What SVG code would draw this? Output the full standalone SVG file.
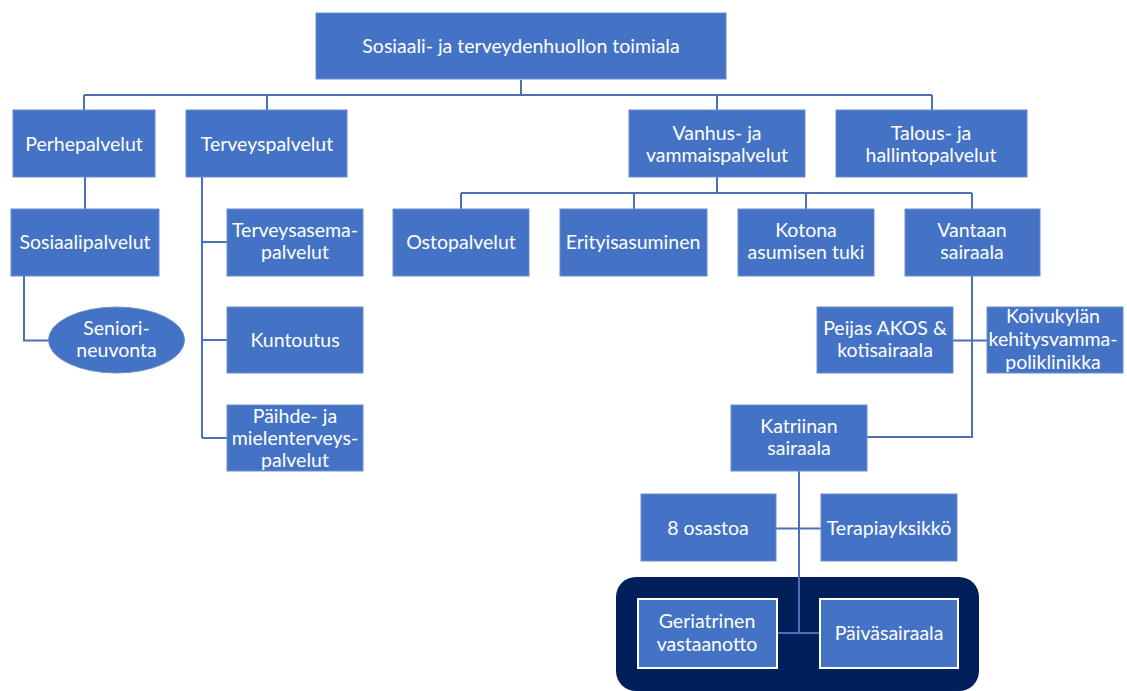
<svg xmlns="http://www.w3.org/2000/svg" width="1127" height="691" viewBox="0 0 1127 691">
<style>
.b{fill:#4472C4;stroke:#6d8fd0;stroke-width:1}
.w{fill:#4472C4;stroke:#ffffff;stroke-width:2}
.t{font-family:Lato,"Liberation Sans",sans-serif;font-size:19.5px;fill:#ffffff;text-anchor:middle}
.c{fill:none;stroke:#4a70b8;stroke-width:2}
</style>
<rect width="1127" height="691" fill="#ffffff"/>
<rect id="container" x="616" y="577" width="363" height="114" rx="20" fill="#001f5b"/>
<g id="connectors" class="c">
<path d="M521 80V95M84 95H932M84 95V110M267 95V110M717 95V110M932 95V110"/>
<path d="M85 177V209"/>
<path d="M24 276V340.5H49"/>
<path d="M202 177V438M202 242H227M202 340H227M202 438H227"/>
<path d="M717 177V193M461 193H972M461 193V209M634 193V209M806 193V209M972 193V209"/>
<path d="M972 276V437H867M953 340.5H987"/>
<path d="M799 471V633M776 528.5H821M777 633H820"/>
</g>
<g id="n-top"><rect class="b" x="316" y="13" width="410" height="66"/><text class="t" x="521" y="53">Sosiaali- ja terveydenhuollon toimiala</text></g>
<g id="n-perhe"><rect class="b" x="13" y="110" width="142" height="67"/><text class="t" x="84" y="151">Perhepalvelut</text></g>
<g id="n-terveys"><rect class="b" x="186" y="110" width="161" height="67"/><text class="t" x="267" y="151">Terveyspalvelut</text></g>
<g id="n-vanhus"><rect class="b" x="629" y="110" width="176" height="67"/><text class="t" x="717" y="140">Vanhus- ja</text><text class="t" x="717" y="162">vammaispalvelut</text></g>
<g id="n-talous"><rect class="b" x="836" y="110" width="191" height="67"/><text class="t" x="931" y="140">Talous- ja</text><text class="t" x="931" y="162">hallintopalvelut</text></g>
<g id="n-sosiaali"><rect class="b" x="11" y="209" width="148" height="67"/><text class="t" x="85" y="249">Sosiaalipalvelut</text></g>
<g id="n-terveysasema"><rect class="b" x="227" y="209" width="136" height="67"/><text class="t" x="295" y="237">Terveysasema-</text><text class="t" x="295" y="259">palvelut</text></g>
<g id="n-osto"><rect class="b" x="393" y="209" width="136" height="67"/><text class="t" x="461" y="249">Ostopalvelut</text></g>
<g id="n-erityis"><rect class="b" x="560" y="209" width="147" height="67"/><text class="t" x="633" y="249">Erityisasuminen</text></g>
<g id="n-kotona"><rect class="b" x="738" y="209" width="136" height="67"/><text class="t" x="806" y="237">Kotona</text><text class="t" x="806" y="259">asumisen tuki</text></g>
<g id="n-vantaan"><rect class="b" x="905" y="209" width="135" height="67"/><text class="t" x="972" y="237">Vantaan</text><text class="t" x="972" y="259">sairaala</text></g>
<g id="n-seniori"><ellipse class="b" cx="116.5" cy="340" rx="68" ry="33"/><text class="t" x="116.5" y="335">Seniori-</text><text class="t" x="116.5" y="357">neuvonta</text></g>
<g id="n-kuntoutus"><rect class="b" x="227" y="307" width="136" height="66"/><text class="t" x="295" y="347">Kuntoutus</text></g>
<g id="n-paihde"><rect class="b" x="227" y="405" width="136" height="66"/><text class="t" x="295" y="423">Päihde- ja</text><text class="t" x="295" y="445">mielenterveys-</text><text class="t" x="295" y="467">palvelut</text></g>
<g id="n-peijas"><rect class="b" x="817" y="307" width="136" height="66"/><text class="t" x="885" y="335">Peijas AKOS &amp;</text><text class="t" x="885" y="357">kotisairaala</text></g>
<g id="n-koivukyla"><rect class="b" x="987" y="307" width="136" height="66"/><text class="t" x="1053" y="323">Koivukylän</text><text class="t" x="1053" y="346">kehitysvamma-</text><text class="t" x="1053" y="369">poliklinikka</text></g>
<g id="n-katriina"><rect class="b" x="731" y="405" width="136" height="66"/><text class="t" x="799" y="433">Katriinan</text><text class="t" x="799" y="455">sairaala</text></g>
<g id="n-osastoa"><rect class="b" x="641" y="494" width="135" height="67"/><text class="t" x="708" y="535">8 osastoa</text></g>
<g id="n-terapia"><rect class="b" x="821" y="494" width="136" height="67"/><text class="t" x="889" y="535">Terapiayksikkö</text></g>
<g id="n-geriatrinen"><rect class="w" x="638" y="599" width="139" height="69"/><text class="t" x="707" y="628">Geriatrinen</text><text class="t" x="707" y="651">vastaanotto</text></g>
<g id="n-paiva"><rect class="w" x="820" y="599" width="138" height="69"/><text class="t" x="889" y="640">Päiväsairaala</text></g>
</svg>
